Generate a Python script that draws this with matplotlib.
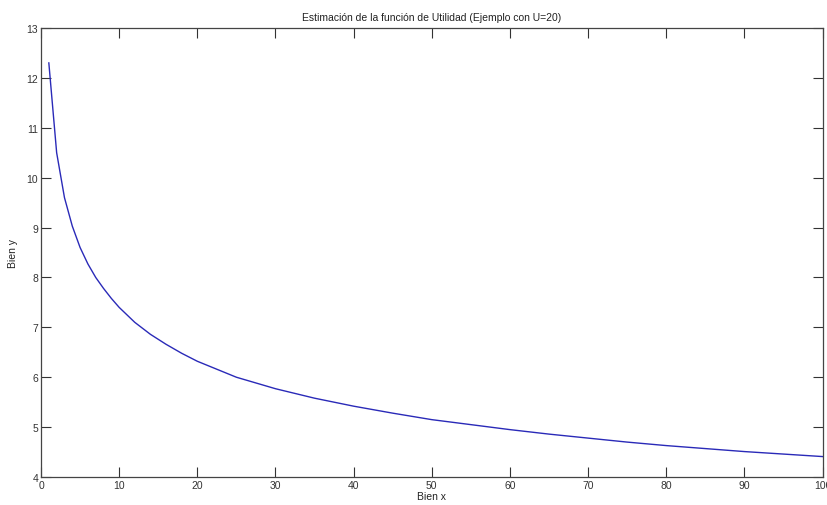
import numpy as np
import matplotlib
matplotlib.use("Agg")
import matplotlib.pyplot as plt

# values
bien_x = [1, 2, 3, 4, 5, 6, 7, 8, 9, 10, 12, 14, 16, 18, 20, 25, 30, 35, 40, 45,
          50, 55, 60, 65, 70, 75, 80, 85, 90, 95, 100]
bien_y = [12.3, 10.5, 9.6, 9.03, 8.6, 8.27, 8.0, 7.78, 7.58, 7.4, 7.1, 6.86, 6.66,
          6.48, 6.32, 6.0, 5.77, 5.58, 5.42, 5.28, 5.15, 5.05, 4.95, 4.86, 4.78,
          4.70, 4.63, 4.57, 4.51, 4.46, 4.41]
x_ticks = [0, 10, 20, 30, 40, 50, 60, 70, 80, 90, 100]
y_ticks = [4, 5, 6, 7, 8, 9, 10, 11, 12, 13]

plt.rcParams['font.family'] = ['Liberation Sans', 'DejaVu Sans']

fig = plt.figure(figsize=(8.27, 5.06), dpi=100)
ax = fig.add_axes([0.0496, 0.0553, 0.945, 0.8874])

ax.plot(bien_x, bien_y, color='#2a2ab8', lw=1.0)

ax.set_xlim(0, 100)
ax.set_ylim(4, 13)
ax.set_xticks(x_ticks)
ax.set_yticks(y_ticks)
ax.tick_params(direction='in', length=7, width=0.8, color='#333333',
               labelsize=7.5, labelcolor='#333333', top=True, right=True, pad=2)
for s in ax.spines.values():
    s.set_color('#444444')
    s.set_linewidth(0.9)

ax.set_title('Estimación de la función de Utilidad (Ejemplo con U=20)',
             fontsize=7.5, color='#222222', pad=6)
ax.set_xlabel('Bien x', fontsize=7.5, color='#222222', labelpad=1)
ax.set_ylabel('Bien y', fontsize=7.5, color='#222222', labelpad=6)

fig.savefig('out.png', dpi=100)
